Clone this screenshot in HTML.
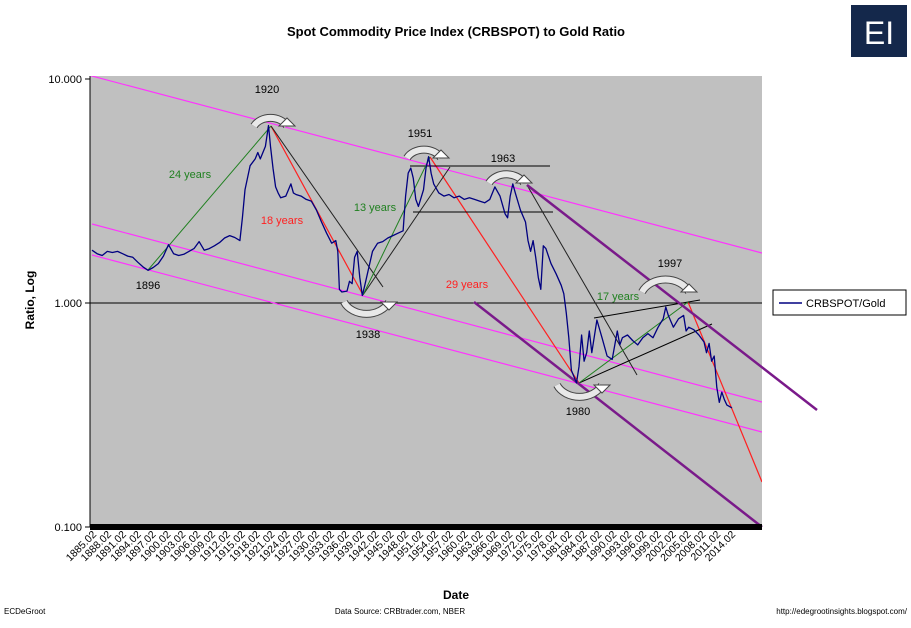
<!DOCTYPE html>
<html><head><meta charset="utf-8">
<style>
body{margin:0;background:#fff;width:911px;height:623px;overflow:hidden;font-family:"Liberation Sans",Arial,sans-serif;}
svg text{font-family:"Liberation Sans",Arial,sans-serif;}
</style></head>
<body>
<svg id="chart" width="911" height="623" viewBox="0 0 911 623" xmlns="http://www.w3.org/2000/svg">
<rect x="0" y="0" width="911" height="623" fill="#fff"/>
<text x="456" y="36" text-anchor="middle" font-size="13" font-weight="bold">Spot Commodity Price Index (CRBSPOT) to Gold Ratio</text>
<g>
<rect x="851" y="5" width="56" height="52" fill="#14284b"/>
<text x="879" y="44" text-anchor="middle" font-size="32" fill="#fff">EI</text>
</g>
<defs><clipPath id="pc"><rect x="90" y="76" width="672" height="451"/></clipPath></defs>
<rect x="90" y="76" width="672" height="451" fill="#c0c0c0"/>
<g id="yaxis"></g>
<g id="xaxis"></g>
<g id="annot" clip-path="url(#pc)"></g>
<g id="annot2"></g>
<g id="series" clip-path="url(#pc)"></g>
<rect x="90" y="524" width="672" height="6" fill="#000"/>
<g id="labels"></g>
<text transform="translate(34,300) rotate(-90)" text-anchor="middle" font-size="12" font-weight="bold">Ratio, Log</text>
<text x="456" y="599" text-anchor="middle" font-size="12" font-weight="bold">Date</text>
<g>
<rect x="773" y="290" width="133" height="25" fill="#fff" stroke="#000" stroke-width="1"/>
<line x1="779" y1="303" x2="802" y2="303" stroke="#000080" stroke-width="1.5"/>
<text x="806" y="307" font-size="11">CRBSPOT/Gold</text>
</g>
<text x="4" y="614" font-size="8">ECDeGroot</text>
<text x="400" y="614" text-anchor="middle" font-size="8">Data Source:  CRBtrader.com, NBER</text>
<text x="907" y="614" text-anchor="end" font-size="8">http://edegrootinsights.blogspot.com/</text>
</svg>
<script>
const years=[1885,1886,1887,1888,1889,1890,1891,1892,1893,1894,1895,1896,1897,1898,1899,1900,1901,1902,1903,1904,1905,1906,1907,1908,1909,1910,1911,1912,1913,1914,1914.5,1915,1916,1917,1917.5,1918,1919,1919.6,1920,1920.5,1921,1921.5,1922,1923,1924,1924.5,1925,1926,1927,1928,1929,1930,1931,1932,1932.8,1933.2,1933.5,1934,1935,1935.5,1936,1936.5,1937,1937.5,1938,1938.5,1939,1940,1941,1942,1943,1944,1945,1946,1946.5,1947,1947.5,1948,1948.5,1949,1950,1950.5,1951,1951.5,1952,1953,1954,1955,1956,1957,1958,1959,1960,1961,1962,1963,1964,1965,1966,1966.5,1967,1967.5,1968,1969,1970,1970.5,1971,1971.5,1972,1972.5,1973,1973.5,1974,1975,1976,1977,1977.5,1978,1978.5,1979,1980,1980.5,1981,1981.5,1982,1982.5,1983,1984,1985,1986,1987,1988,1988.5,1989,1990,1991,1992,1993,1994,1995,1996,1997,1997.5,1998,1999,2000,2001,2001.5,2002,2003,2004,2005,2005.5,2006,2006.5,2007,2007.5,2008,2008.5,2009,2009.5,2010.5];
const ratios=[1.72,1.66,1.63,1.70,1.68,1.70,1.66,1.62,1.60,1.52,1.45,1.40,1.44,1.50,1.62,1.82,1.66,1.63,1.65,1.70,1.75,1.88,1.72,1.75,1.80,1.86,1.95,2.00,1.96,1.90,2.4,3.2,4.1,4.4,4.7,4.4,5.0,6.2,5.0,4.0,3.3,3.1,2.95,3.0,3.4,3.1,3.05,3.0,2.9,2.85,2.6,2.3,2.05,1.85,1.9,1.7,1.15,1.12,1.13,1.25,1.22,1.6,1.7,1.3,1.08,1.2,1.35,1.7,1.85,1.88,1.95,2.0,2.05,2.1,3.0,3.8,4.0,3.6,2.9,2.7,3.2,4.0,4.5,3.8,3.4,3.1,3.0,3.05,2.95,3.0,2.9,2.95,2.9,2.85,2.8,2.9,3.3,3.0,2.5,2.4,3.0,3.4,3.1,2.6,2.3,1.9,1.7,1.9,1.6,1.3,1.15,1.8,1.75,1.5,1.35,1.2,1.1,0.9,0.7,0.5,0.44,0.52,0.72,0.55,0.6,0.75,0.6,0.84,0.7,0.58,0.56,0.75,0.65,0.7,0.72,0.68,0.65,0.7,0.73,0.7,0.78,0.85,0.96,0.88,0.78,0.85,0.88,0.75,0.78,0.76,0.72,0.67,0.6,0.66,0.55,0.58,0.42,0.36,0.40,0.37,0.35,0.34];
const yTicks=[10,1,0.1];
const yTickLabels=["10.000","1.000","0.100"];
const xTickLabels=[];for(let yr=1885;yr<=2014;yr+=3)xTickLabels.push(yr+".02");

const NS="http://www.w3.org/2000/svg";
function xScale(yr){return 92+(yr-1885)*5.1;}
function yScale(v){return 303-Math.log10(v)*224;}
function mk(tag,attrs,parent){const e=document.createElementNS(NS,tag);for(const k in attrs)e.setAttribute(k,attrs[k]);parent.appendChild(e);return e;}

const yax=document.getElementById('yaxis');
yTicks.forEach((t,i)=>{
 const y=yScale(t);
 const tk=mk('line',{x1:85,y1:y,x2:90,y2:y,stroke:'#000'},yax);
 
 
 const lb=mk('text',{x:82,y:y+4,'text-anchor':'end','font-size':11},yax);
 lb.textContent=yTickLabels[i];
 
 
});
mk('line',{x1:90,y1:76,x2:90,y2:527,stroke:'#000'},yax);
const hl=mk('line',{x1:90,y1:yScale(1),x2:762,y2:yScale(1),stroke:'#000','stroke-width':1},yax);



const xax=document.getElementById('xaxis');
xTickLabels.forEach((s,i)=>{
 const xe=97+i*(736-97)/(xTickLabels.length-1);
 const lb=mk('text',{transform:`translate(${xe},535) rotate(-45)`,'text-anchor':'end','font-size':10.5},xax);
 lb.textContent=s;
 
 
});

const an=document.getElementById('annot');
function ln(a,b,c,d,col,w,name,par){const l=mk('line',{x1:a,y1:b,x2:c,y2:d,stroke:col,'stroke-width':w},par||an);
 
 return l;}
ln(88,75,762,253,'#ff33ff',1.2,'channel-upper');
ln(92,224,762,402,'#ff33ff',1.2,'channel-mid');
ln(92,255,762,432,'#ff33ff',1.2,'channel-lower');
ln(271,126,363,295,'#ff2020',1.2,'decline-1920-1938');
ln(430,157,579,383,'#ff2020',1.2,'decline-1951-1980');
ln(688,302,762,482,'#ff2020',1.2,'decline-1997');
ln(271,126,383,287,'#222',1,'trend-black-1');
ln(363,295,450,167,'#222',1,'trend-black-2');
ln(410,166,550,166,'#000',1,'range-top');
ln(413,212,553,212,'#000',1,'range-bottom');
ln(527,185,637,375,'#222',1,'trend-black-3');
ln(594,318,700,300,'#000',1,'wedge-top');
ln(579,383,712,324,'#000',1,'wedge-bottom');
ln(148,270,271,126,'#208020',1,'rise-1896-1920');
ln(363,295,430,157,'#208020',1,'rise-1938-1951');
ln(579,383,688,302,'#208020',1,'rise-1980-1997');
const an2=document.getElementById('annot2');
ln(527,185,817,410,'#7a1a8a',2.5,'purple-channel-upper',an2);
ln(474,302,762,527,'#7a1a8a',2.5,'purple-channel-lower',an2);

// curved arrows
function arrow(x1,x2,yb,up,name){
 const g=mk('g',{},an2);
 
 
 const cx=(x1+x2)/2,r=(x2-x1)/2-4,s=up?-1:1;
 const d=`M${x1+4},${yb} A${r},${r*0.8} 0 0 ${up?1:0} ${x2-8},${yb}`;
 mk('path',{d:d,fill:'none',stroke:'#444','stroke-width':8},g);
 mk('path',{d:d,fill:'none',stroke:'#e8e8e8','stroke-width':6},g);
 const ax=x2-8;
 mk('polygon',{points:`${ax-8},${yb} ${ax+8},${yb} ${ax},${yb-s*(-8)}`,fill:'#fff',stroke:'#444','stroke-width':1},g);
}
arrow(250,295,126,true,'arrow-1920');
arrow(403,449,158,true,'arrow-1951');
arrow(485,532,183,true,'arrow-1963');
arrow(638,697,292,true,'arrow-1997');
arrow(340,397,302,false,'arrow-1938');
arrow(553,610,385,false,'arrow-1980');

const sg=document.getElementById('series');
let d='';years.forEach((yr,i)=>{d+=(i?'L':'M')+xScale(yr).toFixed(1)+','+yScale(ratios[i]).toFixed(1);});
const p=mk('path',{d:d,fill:'none',stroke:'#000080','stroke-width':1.3,'stroke-linejoin':'round'},sg);



const lg=document.getElementById('labels');
[["1920",267,93,'#000'],["24 years",190,178,'#208020'],["18 years",282,224,'#ff2020'],["1896",148,289,'#000'],["13 years",375,211,'#208020'],["1938",368,338,'#000'],["1951",420,137,'#000'],["1963",503,162,'#000'],["29 years",467,288,'#ff2020'],["17 years",618,300,'#208020'],["1997",670,267,'#000'],["1980",578,415,'#000']].forEach(a=>{
 const t=mk('text',{x:a[1],y:a[2],'text-anchor':'middle','font-size':11,fill:a[3]},lg);
 t.textContent=a[0];
 
 
});
</script>
</body></html>
